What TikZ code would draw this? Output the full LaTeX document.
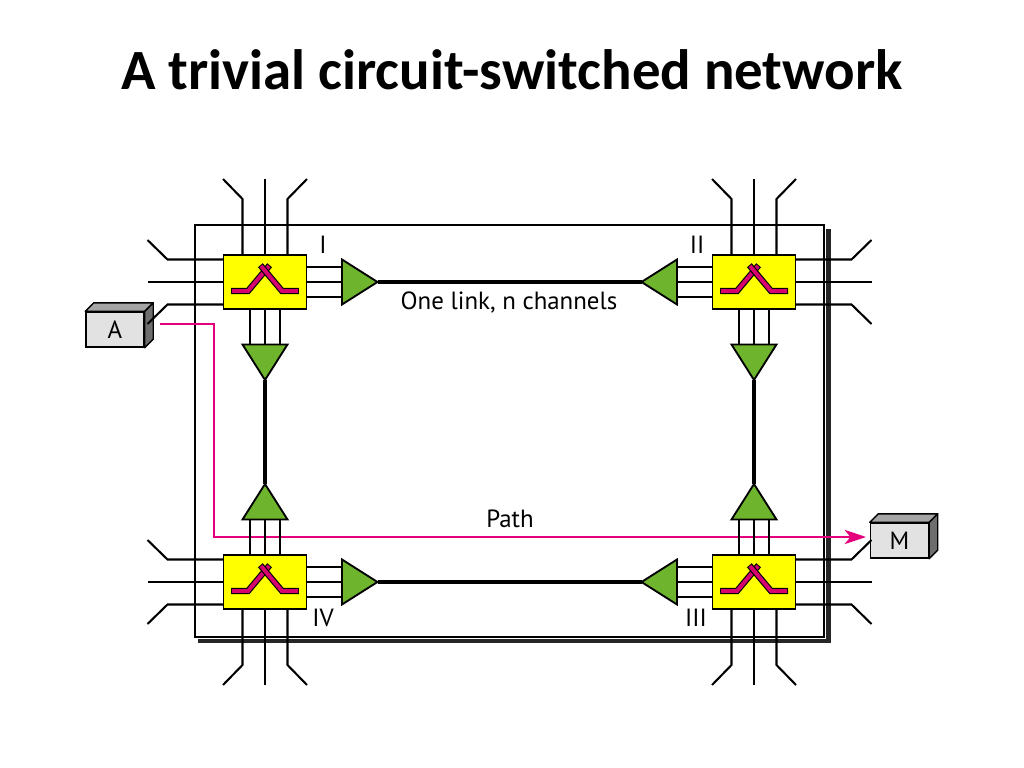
\documentclass[tikz,border=0pt]{standalone}
\usepackage{fontspec}
\setmainfont{PT Sans}
\newfontfamily\titlefont{Carlito}
\usetikzlibrary{arrows.meta}
\definecolor{swyellow}{RGB}{255,255,0}
\definecolor{trigreen}{RGB}{110,180,45}
\definecolor{pathpink}{RGB}{228,0,124}
\definecolor{symmag}{RGB}{214,0,110}
\definecolor{boxfront}{RGB}{226,226,226}
\definecolor{boxtop}{RGB}{165,165,165}
\definecolor{boxside}{RGB}{110,110,110}
\newcommand\fanside[1]{%
  \draw[wire] (#1,-22.5) -- ({#1+56},-22.5) -- ({#1+76},-42);
  \draw[wire] (#1,0) -- ({#1+76},0);
  \draw[wire] (#1,22.5) -- ({#1+56},22.5) -- ({#1+76},42);
}
\newcommand\linkside[2]{%
  \foreach \o in {-15,0,15} {\draw[wire] (#2,\o) -- ({#2+35.5},\o);}
  \draw[tri] ({#2+35.5},-22.5) -- ({#2+71},0) -- ({#2+35.5},22.5) -- cycle;
  \coordinate (#1) at ({#2+71},0);
}
\newcommand\swsymbol{%
  \draw[symout] (-33,9) -- (-17,9) -- (4,-16);
  \draw[symin] (-33,9) -- (-17,9) -- (4,-16);
  \draw[symout] (33,9) -- (17,9) -- (-4,-16);
  \draw[symin] (33,9) -- (17,9) -- (-4,-16);
}
\begin{document}
\begin{tikzpicture}[x=0.703125pt,y=-0.703125pt,
  wire/.style={line width=1.45pt},
  tri/.style={draw=black,fill=trigreen,line width=1.3pt,line join=miter},
  link/.style={line width=2.8pt},
  swbox/.style={draw=black,fill=swyellow,line width=1pt,minimum width=58.4pt,minimum height=38pt,inner sep=0pt},
  symout/.style={line width=4.4pt,black,line join=miter,shorten <=-0.7pt,shorten >=-0.7pt},
  symin/.style={line width=2.8pt,symmag,line join=miter},
  lbl/.style={font=\fontsize{17.5}{20}\selectfont,inner sep=0pt},
  term/.style={draw=black,fill=boxfront,line width=1pt,minimum width=40.8pt,minimum height=24.6pt,inner sep=0pt,font=\fontsize{17.5}{20}\selectfont},
  face/.style={draw=black,line width=1pt,line join=round},
  pathln/.style={line width=1.6pt,pathpink},
]
\useasboundingbox (0,0) rectangle (1024,768);
\fill[white] (0,0) rectangle (1024,768);

\node[font=\titlefont\bfseries\fontsize{40}{44}\selectfont,anchor=base,inner sep=0pt] (title) at (512,90) {A trivial circuit-switched network};

% frame and shadow
\draw[line width=3.3pt,black!85] (828.5,229) -- (828.5,641) -- (198,641);
\draw[line width=1pt] (195,225) rectangle (824,637);

% terminals
\node[term] (A) at (115,329.5) {A};
\draw[face,fill=boxtop] (A.north west) -- ([shift={(8.5,-8.5)}]A.north west) -- ([shift={(8.5,-8.5)}]A.north east) -- (A.north east) -- cycle;
\draw[face,fill=boxside] (A.north east) -- ([shift={(8.5,-8.5)}]A.north east) -- ([shift={(8.5,-8.5)}]A.south east) -- (A.south east) -- cycle;
\node[term] (M) at (899.5,540.5) {M};
\draw[face,fill=boxtop] (M.north west) -- ([shift={(8.5,-8.5)}]M.north west) -- ([shift={(8.5,-8.5)}]M.north east) -- (M.north east) -- cycle;
\draw[face,fill=boxside] (M.north east) -- ([shift={(8.5,-8.5)}]M.north east) -- ([shift={(8.5,-8.5)}]M.south east) -- (M.south east) -- cycle;

% path
\coordinate (pstart) at (160,324);
\coordinate (pturn) at (214,537);
\coordinate (pend) at (866,537);
\draw[pathln,-{Stealth[length=15pt,width=10pt,inset=4pt]}] (pstart) -| (pturn) -- (pend);

% Switch I
\begin{scope}[shift={(265,282)}]
  \begin{scope}[rotate=90] \fanside{27} \end{scope}
  \begin{scope}[rotate=180] \fanside{41.5} \end{scope}
  \linkside{sI-r}{41.5}
  \begin{scope}[rotate=-90] \linkside{sI-d}{27} \end{scope}
  \node[swbox] (sI) at (0,0) {};
  \swsymbol
\end{scope}
% Switch II
\begin{scope}[shift={(754,282)}]
  \begin{scope}[rotate=90] \fanside{27} \end{scope}
  \fanside{41.5}
  \begin{scope}[rotate=180] \linkside{sII-l}{41.5} \end{scope}
  \begin{scope}[rotate=-90] \linkside{sII-d}{27} \end{scope}
  \node[swbox] (sII) at (0,0) {};
  \swsymbol
\end{scope}
% Switch III
\begin{scope}[shift={(754,582)}]
  \begin{scope}[rotate=-90] \fanside{27} \end{scope}
  \fanside{41.5}
  \begin{scope}[rotate=180] \linkside{sIII-l}{41.5} \end{scope}
  \begin{scope}[rotate=90] \linkside{sIII-u}{27} \end{scope}
  \node[swbox] (sIII) at (0,0) {};
  \swsymbol
\end{scope}
% Switch IV
\begin{scope}[shift={(265,582)}]
  \begin{scope}[rotate=-90] \fanside{27} \end{scope}
  \begin{scope}[rotate=180] \fanside{41.5} \end{scope}
  \linkside{sIV-r}{41.5}
  \begin{scope}[rotate=90] \linkside{sIV-u}{27} \end{scope}
  \node[swbox] (sIV) at (0,0) {};
  \swsymbol
\end{scope}

% links
\draw[link] (sI-r) -- (sII-l);
\draw[link] (sIV-r) -- (sIII-l);
\draw[link] (sI-d) -- (sIV-u);
\draw[link] (sII-d) -- (sIII-u);

% labels
\node[lbl] (lI) at (323,245) {I};
\node[lbl] (lII) at (697,245) {II};
\node[lbl] (lIII) at (696,618) {III};
\node[lbl] (lIV) at (323,618) {IV};
\node[lbl] (lnk) at (509,302) {One link, n channels};
\node[lbl] (lpath) at (510,519) {Path};
\end{tikzpicture}
\end{document}
